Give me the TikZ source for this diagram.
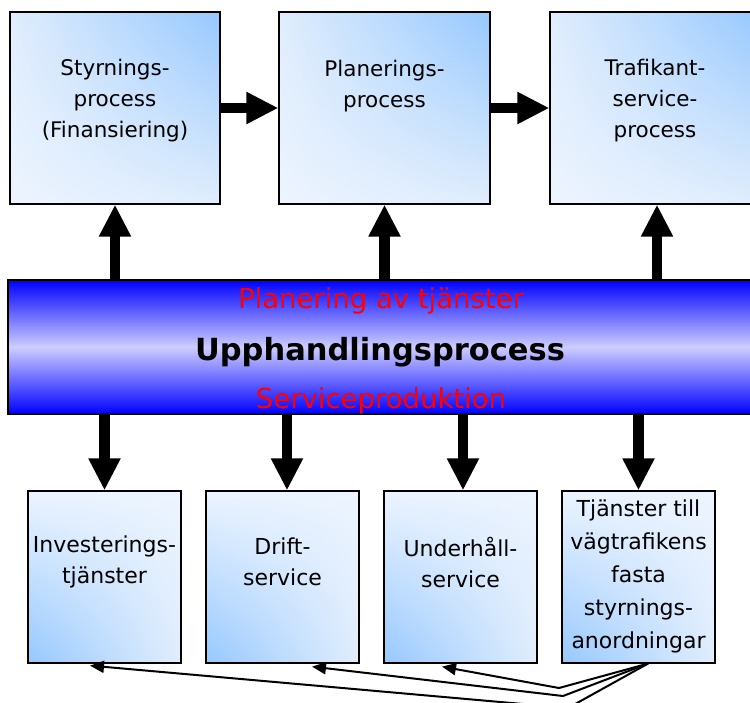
\documentclass[tikz,border=0pt]{standalone}
\usepackage{fontspec}
\setmainfont{DejaVu Sans}
\usetikzlibrary{arrows.meta,shadings,calc}

\definecolor{procblue}{RGB}{150,200,255}
\definecolor{proclight}{RGB}{224,237,252}
\definecolor{palelight}{RGB}{236,244,255}
\definecolor{bandblue}{RGB}{0,0,255}
\definecolor{bandmid}{RGB}{205,205,255}
\definecolor{labelred}{RGB}{255,0,0}

\tikzset{
  procbox/.style={draw=black, line width=1.2pt, rectangle, inner sep=0pt,
    minimum width=210pt, minimum height=192pt,
    upper left=proclight, upper right=procblue,
    lower left=palelight, lower right=proclight},
  servbox/.style={draw=black, line width=1.2pt, rectangle, inner sep=0pt,
    minimum width=153pt, minimum height=172pt,
    upper left=palelight, upper right=palelight,
    lower left=procblue, lower right=proclight},
  bandbox/.style={draw=black, line width=1.2pt, rectangle, inner sep=0pt,
    minimum width=752pt, minimum height=134pt,
    top color=bandblue, bottom color=bandblue, middle color=bandmid},
  boxtext/.style={font=\fontsize{21.5}{31}\selectfont, align=center, inner sep=0pt},
  smalltext/.style={font=\fontsize{22}{33}\selectfont, align=center, inner sep=0pt},
  bandlabel/.style={font=\fontsize{27.5}{30}\selectfont, text=labelred, inner sep=0pt},
  bandtitle/.style={font=\bfseries\fontsize{30.5}{36}\selectfont, inner sep=0pt},
  bigarrow/.style={line width=10.5pt, -{Triangle[length=32pt,width=30pt]}},
  fanarrow/.style={line width=2pt, -{Triangle[length=14pt,width=12pt]}},
}

\begin{document}
\begin{tikzpicture}[x=1pt,y=-1pt]
\useasboundingbox (0,0) rectangle (750,702);

% process boxes along the top
\node[procbox] (styr) at (115,108) {};
\node[procbox, minimum width=211pt] (plan) at (384.5,108) {};
\node[procbox] (traf) at (655,108) {};
\node[boxtext] (styr-t) at (115,101) {Styrnings-\\process\\(Finansiering)};
\node[boxtext] (plan-t) at (384.5,86) {Planerings-\\process};
\node[boxtext] (traf-t) at (655,101) {Trafikant-\\service-\\process};

% procurement band
\node[bandbox] (upph) at (384,347) {};

% service boxes along the bottom
\node[servbox] (inv) at (104.5,577) {};
\node[servbox] (drift) at (282.5,577) {};
\node[servbox] (unde) at (460.5,577) {};
\node[servbox] (tjan) at (638.5,577) {};
\node[smalltext, font=\fontsize{22}{31}\selectfont] (inv-t) at (104.5,562) {Investerings-\\tjänster};
\node[smalltext, font=\fontsize{22}{31}\selectfont] (drift-t) at (282.5,562) {Drift-\\service};
\node[smalltext, font=\fontsize{22}{31}\selectfont] (unde-t) at (460.5,562) {Underhåll-\\service};
\node[smalltext] (tjan-t) at (638.5,576) {Tjänster till\\vägtrafikens\\fasta\\styrnings-\\anordningar};

% flow between the top processes
\draw[bigarrow] (styr.east) -- (plan.west);
\draw[bigarrow] (plan.east) -- (traf.west);

% band feeding the top processes
\draw[bigarrow] (upph.north -| styr.south) -- (styr.south);
\draw[bigarrow] (upph.north -| plan.south) -- (plan.south);
\draw[bigarrow] ([xshift=2pt]upph.north -| traf.south) -- ([xshift=2pt]traf.south);

% band feeding the services
\draw[bigarrow] (upph.south -| inv.north) -- (inv.north);
\draw[bigarrow] ([xshift=4.5pt]upph.south -| drift.north) -- ([xshift=4.5pt]drift.north);
\draw[bigarrow] ([xshift=2.5pt]upph.south -| unde.north) -- ([xshift=2.5pt]unde.north);
\draw[bigarrow] (upph.south -| tjan.north) -- (tjan.north);

% band texts
\node[bandlabel] (plantj) at (381,301) {Planering av tjänster};
\node[bandtitle] (upph-t) at (380,352) {Upphandlingsprocess};
\node[bandlabel] (servprod) at (381,401) {Serviceproduktion};

% fan of links from the traffic control services
\coordinate (fan) at ([xshift=9.5pt]tjan.south);
\coordinate (bendC) at (559,688);
\coordinate (bendB) at (563,696);
\coordinate (bendA) at (568,708);
\draw[fanarrow] (fan) -- (bendC) -- ([xshift=-18.5pt,yshift=-3pt]unde.south);
\draw[fanarrow] (fan) -- (bendB) -- ([xshift=29.5pt,yshift=-3pt]drift.south);
\draw[fanarrow] (fan) -- (bendA) -- ([xshift=-14.5pt,yshift=-2pt]inv.south);
\end{tikzpicture}
\end{document}
